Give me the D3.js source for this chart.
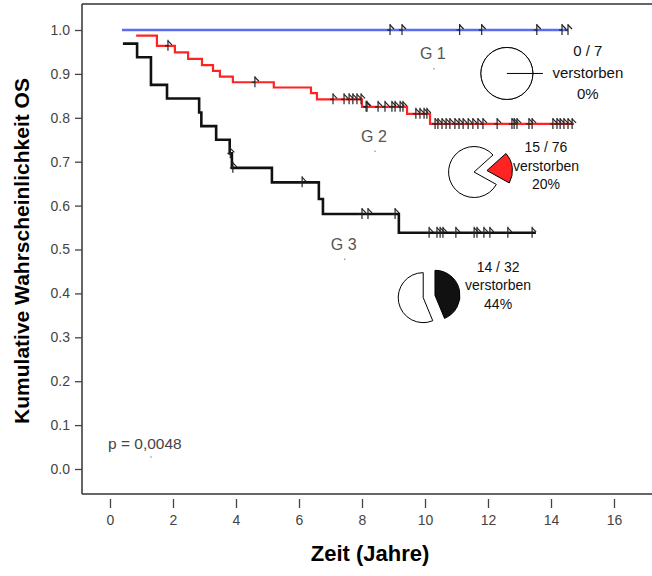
<!DOCTYPE html>
<html>
<head>
<meta charset="utf-8">
<script src="https://cdn.jsdelivr.net/npm/d3@7"></script>
<style>
  html, body { margin: 0; padding: 0; background: #fff; }
  svg { display: block; font-family: "Liberation Sans", Arial, Helvetica, sans-serif; }
</style>
</head>
<body>
<svg id="chart" width="652" height="576"></svg>
<script>
// ---------------- data ----------------
const xTicks = [0, 2, 4, 6, 8, 10, 12, 14, 16];
const yTicks = [0.0, 0.1, 0.2, 0.3, 0.4, 0.5, 0.6, 0.7, 0.8, 0.9, 1.0];

const groupNames = ["G 1", "G 2", "G 3"];
const groupColors = ["#5c6cee", "#ff2424", "#111111"];

// G1: no events
const g1StepTimes = [0.38];
const g1StepSurv  = [1.0];
const g1End = 14.54;
const g1Censor = [8.89, 9.27, 11.10, 11.80, 13.55, 14.35, 14.54];

// G2
const g2StepTimes = [0.83, 1.49, 2.06, 2.48, 2.92, 3.27, 3.49, 3.90, 5.20, 6.38, 6.57, 8.00, 9.43, 10.16];
const g2StepSurv  = [0.987, 0.964, 0.949, 0.934, 0.920, 0.907, 0.894, 0.881, 0.869, 0.856, 0.842, 0.825, 0.809, 0.786];
const g2End = 14.73;
const g2Censor = [1.84, 4.60, 7.08, 7.43, 7.59, 7.71, 7.84, 7.97, 8.13, 8.16, 8.51, 8.73, 8.95, 9.05, 9.21, 9.30,
                  9.71, 9.84, 9.97, 10.06, 10.32, 10.41, 10.54, 10.67, 10.79, 10.95, 11.08, 11.21, 11.37, 11.52,
                  11.68, 11.84, 12.29, 12.76, 12.83, 12.92, 13.30, 13.40, 14.06, 14.19, 14.29, 14.41, 14.54, 14.67];

// G3
const g3StepTimes = [0.41, 0.86, 1.30, 1.81, 2.83, 2.90, 3.37, 3.80, 3.87, 5.14, 6.63, 6.76, 9.17];
const g3StepSurv  = [0.969, 0.938, 0.875, 0.844, 0.812, 0.781, 0.750, 0.719, 0.686, 0.653, 0.615, 0.581, 0.538];
const g3End = 13.52;
const g3Censor = [3.82, 3.90, 6.10, 8.00, 8.19, 9.05, 10.13, 10.38, 10.48, 10.57, 10.98, 11.56, 11.65, 11.87, 12.06, 12.63, 13.40];

// pies: deaths / total
const pieDeaths = [0, 15, 14];
const pieTotals = [7, 76, 32];
const pieLabels = ["0%", "20%", "44%"];
const pValueText = "p = 0,0048";

// ---------------- layout ----------------
const svg = d3.select("#chart");
const x = d3.scaleLinear().domain([0, 16]).range([110, 614]);
const y = d3.scaleLinear().domain([0, 1]).range([469, 30]);
const box = { left: 82, top: 4, bottom: 494, right: 652 };
const tickColor = "#444";

// frame
const frame = svg.append("g").attr("stroke", "#333").attr("stroke-width", 1.5).attr("fill", "none");
frame.append("line").attr("x1", box.left).attr("x2", box.left).attr("y1", box.top).attr("y2", box.bottom);
frame.append("line").attr("x1", box.left).attr("x2", box.right).attr("y1", box.top).attr("y2", box.top);
frame.append("line").attr("x1", box.left).attr("x2", box.right).attr("y1", box.bottom).attr("y2", box.bottom);

// y axis
const yAxis = svg.append("g").attr("transform", `translate(${box.left},0)`)
  .call(d3.axisLeft(y).tickValues(yTicks).tickSize(7).tickPadding(5).tickFormat(d3.format(".1f")));
yAxis.select(".domain").remove();
yAxis.selectAll("line").attr("stroke", tickColor).attr("stroke-width", 1.3);
yAxis.selectAll("text").attr("fill", tickColor).style("font-size", "14px")
  .style("font-family", "'Liberation Sans', Arial, sans-serif");

// x axis
const xAxis = svg.append("g").attr("transform", `translate(0,${box.bottom + 5})`)
  .call(d3.axisBottom(x).tickValues(xTicks).tickSize(9).tickPadding(7).tickFormat(d3.format("d")));
xAxis.select(".domain").remove();
xAxis.selectAll("line").attr("stroke", tickColor).attr("stroke-width", 1.3);
xAxis.selectAll("text").attr("fill", tickColor).style("font-size", "14px")
  .style("font-family", "'Liberation Sans', Arial, sans-serif");

// axis titles
svg.append("text").attr("x", 370).attr("y", 561).attr("text-anchor", "middle")
  .style("font-size", "22px").style("font-weight", "bold").text("Zeit (Jahre)");
svg.append("text").attr("transform", "translate(29,251) rotate(-90)").attr("text-anchor", "middle")
  .style("font-size", "21px").style("font-weight", "bold").text("Kumulative Wahrscheinlichkeit OS");

// ---------------- curves ----------------
function stepPoints(times, surv, end) {
  const pts = [];
  times.forEach((t, i) => {
    if (i > 0) pts.push([t, surv[i - 1]]);
    pts.push([t, surv[i]]);
  });
  pts.push([end, surv[surv.length - 1]]);
  return pts;
}
function survAt(times, surv, t) {
  let v = surv[0];
  times.forEach((tt, i) => { if (tt <= t) v = surv[i]; });
  return v;
}
const curves = [
  { times: g1StepTimes, surv: g1StepSurv, end: g1End, censor: g1Censor, width: 2.4 },
  { times: g2StepTimes, surv: g2StepSurv, end: g2End, censor: g2Censor, width: 2.2 },
  { times: g3StepTimes, surv: g3StepSurv, end: g3End, censor: g3Censor, width: 2.6 }
];
const line = d3.line().x(d => x(d[0])).y(d => y(d[1]));

curves.forEach((c, gi) => {
  const g = svg.append("g");
  g.append("path").attr("d", line(stepPoints(c.times, c.surv, c.end)))
    .attr("fill", "none").attr("stroke", groupColors[gi]).attr("stroke-width", c.width)
    .attr("stroke-linejoin", "miter");
  // censor marks
  const marks = g.selectAll("g.cm").data(c.censor).join("g")
    .attr("transform", t => `translate(${x(t)},${y(survAt(c.times, c.surv, t))})`)
    .attr("stroke", "#222").attr("stroke-width", 1.2).attr("fill", "none");
  marks.append("line").attr("x1", 0).attr("x2", 0).attr("y1", -6).attr("y2", 5);
  marks.append("line").attr("x1", -3).attr("x2", 0).attr("y1", 0).attr("y2", 0);
  marks.append("line").attr("x1", 0).attr("x2", 4).attr("y1", -5).attr("y2", -1);
});

// group labels (with small dots as in the original)
const groupLabelPos = [[10.25, 0.946], [8.38, 0.758], [7.42, 0.512]];
groupLabelPos.forEach((p, i) => {
  svg.append("text").attr("x", x(p[0])).attr("y", y(p[1])).attr("text-anchor", "middle")
    .attr("dy", "0.35em").attr("fill", "#555").style("font-size", "16px").text(groupNames[i]);
  svg.append("circle").attr("cx", x(p[0]) + 1).attr("cy", y(p[1]) + 15).attr("r", 0.8).attr("fill", "#888");
});

// p value
svg.append("text").attr("x", 108).attr("y", 444).attr("dy", "0.35em").attr("fill", "#444")
  .style("font-size", "15.5px").text(pValueText);
svg.append("circle").attr("cx", 151).attr("cy", 457).attr("r", 0.8).attr("fill", "#888");

// ---------------- pies ----------------
const pieLayout = [
  { cx: 12.6,  cy: 0.901, r: 26,   start: 90, explode: [0, 0],  tx: 15.17, ty: 0.952, fs: 15, lh: 21.5 },
  { cx: 11.62, cy: 0.677, r: 25.5, start: 48, explode: [11, 2], tx: 13.84, ty: 0.733, fs: 14, lh: 18.5 },
  { cx: 10.13, cy: 0.393, r: 25,   start: 0,  explode: [6, 6],  tx: 12.32, ty: 0.460, fs: 14, lh: 18.5 }
];
const deg = Math.PI / 180;
pieLayout.forEach((L, i) => {
  const cx = x(L.cx), cy = y(L.cy);
  const a0 = L.start * deg;
  const slices = d3.pie().sort(null).startAngle(a0).endAngle(a0 + 2 * Math.PI)
    ([pieDeaths[i], pieTotals[i] - pieDeaths[i]]);
  const arc = d3.arc().innerRadius(0).outerRadius(L.r);
  const g = svg.append("g");
  slices.forEach((s, k) => {
    if (s.endAngle - s.startAngle <= 0) return;
    const mid = (s.startAngle + s.endAngle) / 2;
    const d = L.explode[k];
    const ox = d * Math.sin(mid), oy = -d * Math.cos(mid);
    g.append("path").attr("d", arc(s)).attr("transform", `translate(${cx + ox},${cy + oy})`)
      .attr("fill", k === 0 ? groupColors[i] : "#fff").attr("stroke", "#000").attr("stroke-width", 1);
  });
  if (pieDeaths[i] === 0) {
    g.append("circle").attr("cx", cx).attr("cy", cy).attr("r", L.r).attr("fill", "#fff")
      .attr("stroke", "#000").attr("stroke-width", 1);
    g.append("line").attr("x1", cx).attr("y1", cy)
      .attr("x2", cx + (L.r + 10) * Math.sin(a0)).attr("y2", cy - (L.r + 10) * Math.cos(a0))
      .attr("stroke", "#000").attr("stroke-width", 1);
  }
  const lines = [`${pieDeaths[i]} / ${pieTotals[i]}`, "verstorben", pieLabels[i]];
  lines.forEach((t, j) => {
    svg.append("text").attr("x", x(L.tx)).attr("y", y(L.ty) + j * L.lh).attr("dy", "0.35em")
      .attr("text-anchor", "middle").attr("fill", "#111").style("font-size", L.fs + "px").text(t);
  });
});
</script>
</body>
</html>
